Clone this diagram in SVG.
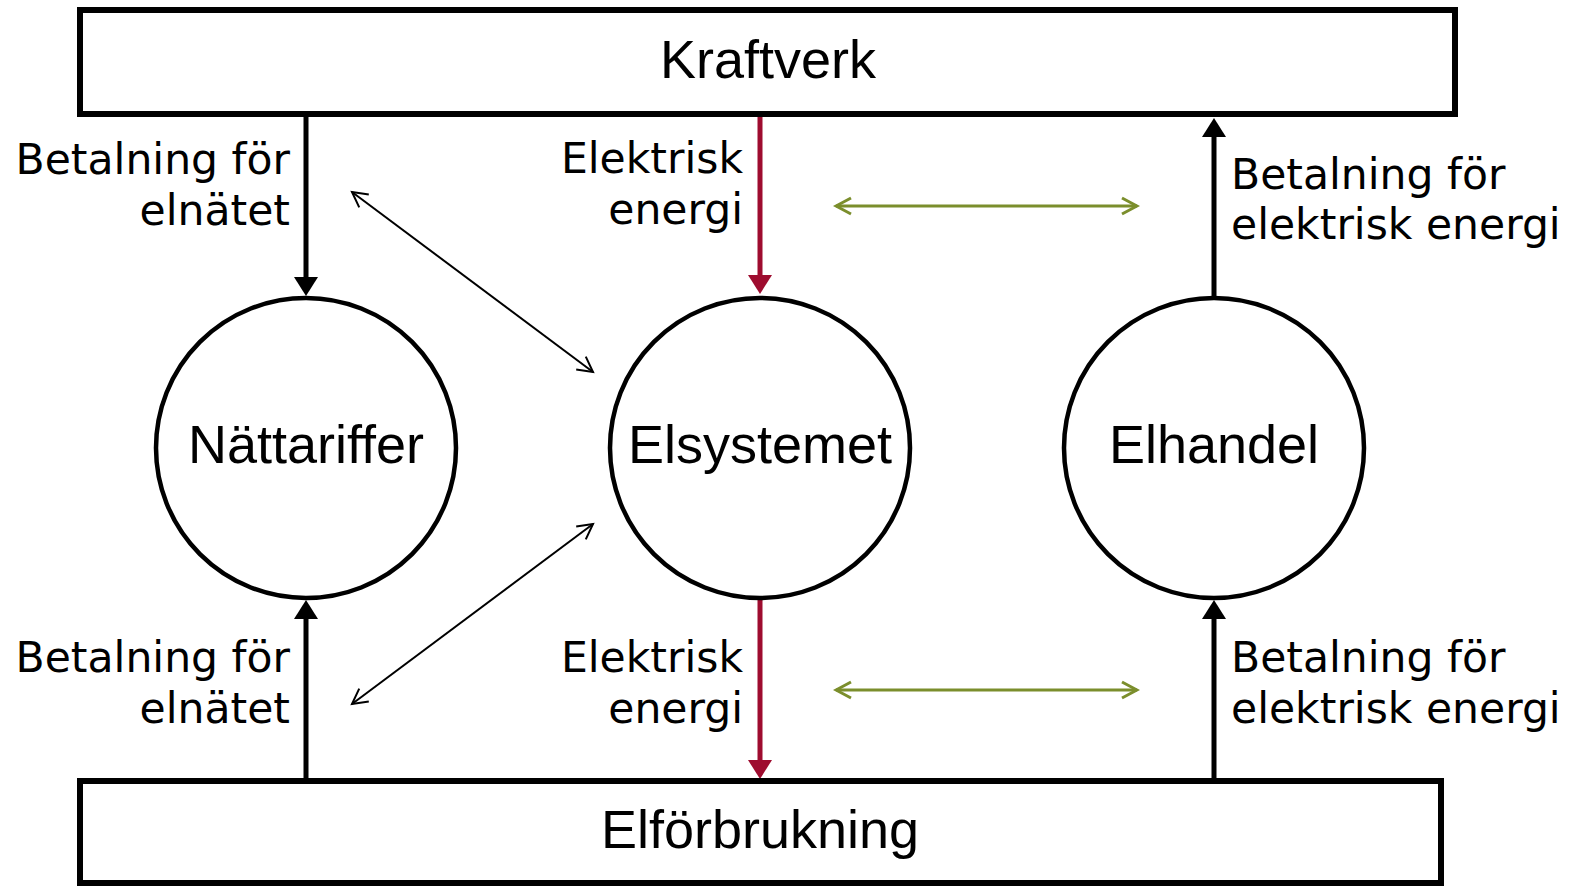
<svg xmlns="http://www.w3.org/2000/svg" width="1580" height="886" viewBox="0 0 1580 886">
  <style>
    .box { fill: #ffffff; stroke: #000000; stroke-width: 6; }
    .node { fill: #ffffff; stroke: #000000; stroke-width: 4.5; }
    .title { font-family: "Liberation Sans", Arial, sans-serif; font-size: 54px; fill: #000000; text-anchor: middle; }
    .lbl { font-family: "DejaVu Sans", Verdana, sans-serif; font-size: 42.5px; fill: #000000; }
    .end { text-anchor: end; }
    .flow { stroke: #000000; stroke-width: 5; fill: none; marker-end: url(#headBlack); }
    .power { stroke: #9e0c2f; stroke-width: 5; fill: none; marker-end: url(#headRed); }
    .link { stroke: #000000; stroke-width: 2; fill: none; marker-start: url(#openBlack); marker-end: url(#openBlack); }
    .trade { stroke: #7b8e2c; stroke-width: 3; fill: none; marker-start: url(#openGreen); marker-end: url(#openGreen); }
  </style>
  <defs>
    <marker id="headBlack" viewBox="0 0 19 24" refX="9" refY="12" markerWidth="19" markerHeight="24" markerUnits="userSpaceOnUse" orient="auto">
      <path d="M0,0 L19,12 L0,24 Z" fill="#000000"/>
    </marker>
    <marker id="headRed" viewBox="0 0 19 24" refX="9" refY="12" markerWidth="19" markerHeight="24" markerUnits="userSpaceOnUse" orient="auto">
      <path d="M0,0 L19,12 L0,24 Z" fill="#9e0c2f"/>
    </marker>
    <marker id="openBlack" viewBox="0 0 20 20" refX="17" refY="10" markerWidth="20" markerHeight="20" markerUnits="userSpaceOnUse" orient="auto-start-reverse">
      <path d="M2,2 L17,10 L2,18" fill="none" stroke="#000000" stroke-width="2"/>
    </marker>
    <marker id="openGreen" viewBox="0 0 20 20" refX="17" refY="10" markerWidth="20" markerHeight="20" markerUnits="userSpaceOnUse" orient="auto-start-reverse">
      <path d="M2,2 L17,10 L2,18" fill="none" stroke="#7b8e2c" stroke-width="3"/>
    </marker>
  </defs>

  <rect width="1580" height="886" fill="#ffffff"/>

  <!-- connectors -->
  <g id="connectors">
    <!-- payments for the grid -->
    <line class="flow" x1="306" y1="114" x2="306" y2="286"/>
    <line class="flow" x1="306" y1="781" x2="306" y2="610"/>
    <!-- electric energy -->
    <line class="power" x1="760" y1="114" x2="760" y2="284"/>
    <line class="power" x1="760" y1="600" x2="760" y2="769"/>
    <!-- payments for electric energy -->
    <line class="flow" x1="1214" y1="296" x2="1214" y2="128"/>
    <line class="flow" x1="1214" y1="781" x2="1214" y2="610"/>
    <!-- diagonal links -->
    <line class="link" x1="352" y1="192" x2="593" y2="372"/>
    <line class="link" x1="352" y1="704" x2="593" y2="524"/>
    <!-- trade links -->
    <line class="trade" x1="836" y1="206" x2="1137" y2="206"/>
    <line class="trade" x1="836" y1="690" x2="1137" y2="690"/>
  </g>

  <!-- connector labels -->
  <g id="labels">
    <text class="lbl end" x="290" y="174">Betalning för</text>
    <text class="lbl end" x="290" y="225">elnätet</text>
    <text class="lbl end" x="743" y="173">Elektrisk</text>
    <text class="lbl end" x="743" y="224">energi</text>
    <text class="lbl" x="1231" y="189">Betalning för</text>
    <text class="lbl" x="1231" y="239">elektrisk energi</text>
    <text class="lbl end" x="290" y="672">Betalning för</text>
    <text class="lbl end" x="290" y="723">elnätet</text>
    <text class="lbl end" x="743" y="672">Elektrisk</text>
    <text class="lbl end" x="743" y="723">energi</text>
    <text class="lbl" x="1231" y="672">Betalning för</text>
    <text class="lbl" x="1231" y="723">elektrisk energi</text>
  </g>

  <g id="kraftverk">
    <rect class="box" x="80" y="10" width="1375" height="104"/>
    <text class="title" x="768" y="78">Kraftverk</text>
  </g>

  <g id="nattariffer">
    <circle class="node" cx="306" cy="448" r="150"/>
    <text class="title" x="306" y="463">Nättariffer</text>
  </g>

  <g id="elsystemet">
    <circle class="node" cx="760" cy="448" r="150"/>
    <text class="title" x="760" y="463">Elsystemet</text>
  </g>

  <g id="elhandel">
    <circle class="node" cx="1214" cy="448" r="150"/>
    <text class="title" x="1214" y="463">Elhandel</text>
  </g>

  <g id="elforbrukning">
    <rect class="box" x="80" y="781" width="1361" height="102"/>
    <text class="title" x="760" y="848">Elförbrukning</text>
  </g>
</svg>
